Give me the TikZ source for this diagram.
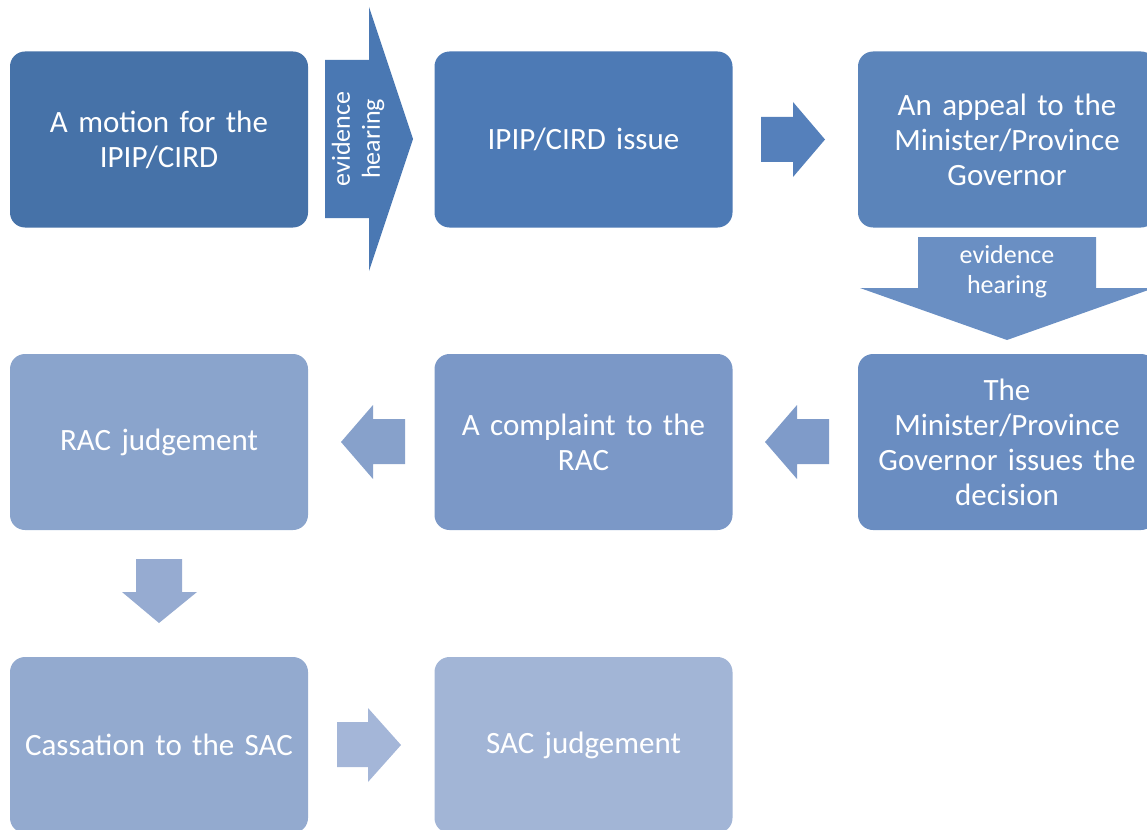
\documentclass[tikz,border=0pt]{standalone}
\usepackage{fontspec}
\setmainfont{Carlito}
\definecolor{cA}{HTML}{4672A8}
\definecolor{cB}{HTML}{4D7AB5}
\definecolor{cC}{HTML}{5B84BA}
\definecolor{cD}{HTML}{6A8DC1}
\definecolor{cE}{HTML}{7B98C7}
\definecolor{cF}{HTML}{8AA4CC}
\definecolor{cG}{HTML}{93AACF}
\definecolor{cH}{HTML}{A2B5D6}
\definecolor{aA}{HTML}{4A78B3}
\definecolor{aB}{HTML}{5580BB}
\definecolor{aC}{HTML}{6A8FC3}
\definecolor{aD}{HTML}{7F9BC9}
\definecolor{aE}{HTML}{87A1CB}
\definecolor{aF}{HTML}{96ABD1}
\definecolor{aG}{HTML}{A4B6D8}
\begin{document}
\begin{tikzpicture}[x=1pt,y=-1pt,
  box/.style={rounded corners=15pt,minimum width=298pt,minimum height=176pt,
    text width=275pt,align=center,text=white,inner sep=0pt,
    font=\fontsize{31}{35}\selectfont},
  albl/.style={text=white,align=center,inner sep=0pt,font=\fontsize{26}{30}\selectfont}]
\useasboundingbox (0,0) rectangle (1147,829);
% boxes
\node[box,fill=cA] (b1) at (159,139.5) {A motion for the\\IPIP/CIRD};
\node[box,fill=cB] (b2) at (583.5,139.5) {IPIP/CIRD issue};
\node[box,fill=cC] (b3) at (1007,139.5) {An appeal to the\\Minister/Province\\Governor};
\node[box,fill=cD] (b6) at (1007,442) {The\\Minister/Province\\Governor issues the\\decision};
\node[box,fill=cE] (b5) at (583.5,442) {A complaint to the\\RAC};
\node[box,fill=cF] (b4) at (159,442) {RAC judgement};
\node[box,fill=cG] (b7) at (159,745) {Cassation to the SAC};
\node[box,fill=cH] (b8) at (583.5,745) {SAC judgement};
% arrow 1 (evidence hearing, right)
\fill[aA] (325,60) -- (369,60) -- (369,7) -- (413,139) -- (369,271) -- (369,218) -- (325,218) -- cycle;
\node[albl,rotate=90] (t1) at (358,139) {evidence\\hearing};
% arrow 2 (right)
\fill[aB] (761,117) -- (793,117) -- (793,102) -- (825,139.5) -- (793,177) -- (793,162) -- (761,162) -- cycle;
% arrow 3 (evidence hearing, down)
\fill[aC] (918,237) -- (1096,237) -- (1096,288) -- (1154,288) -- (1007,340) -- (860,288) -- (918,288) -- cycle;
\node[albl] (t2) at (1007,272) {evidence\\hearing};
% arrow 4 (left, b6 -> b5)
\fill[aD] (829,419) -- (797,419) -- (797,405) -- (765,442) -- (797,479) -- (797,464) -- (829,464) -- cycle;
% arrow 5 (left, b5 -> b4)
\fill[aE] (405,419) -- (373,419) -- (373,405) -- (341,442) -- (373,479) -- (373,464) -- (405,464) -- cycle;
% arrow 6 (down, b4 -> b7)
\fill[aF] (136,559) -- (182,559) -- (182,592) -- (197,592) -- (159,623) -- (122,592) -- (136,592) -- cycle;
% arrow 7 (right, b7 -> b8)
\fill[aG] (337,722) -- (368,722) -- (368,708) -- (401,745) -- (368,782) -- (368,767) -- (337,767) -- cycle;
\end{tikzpicture}
\end{document}
